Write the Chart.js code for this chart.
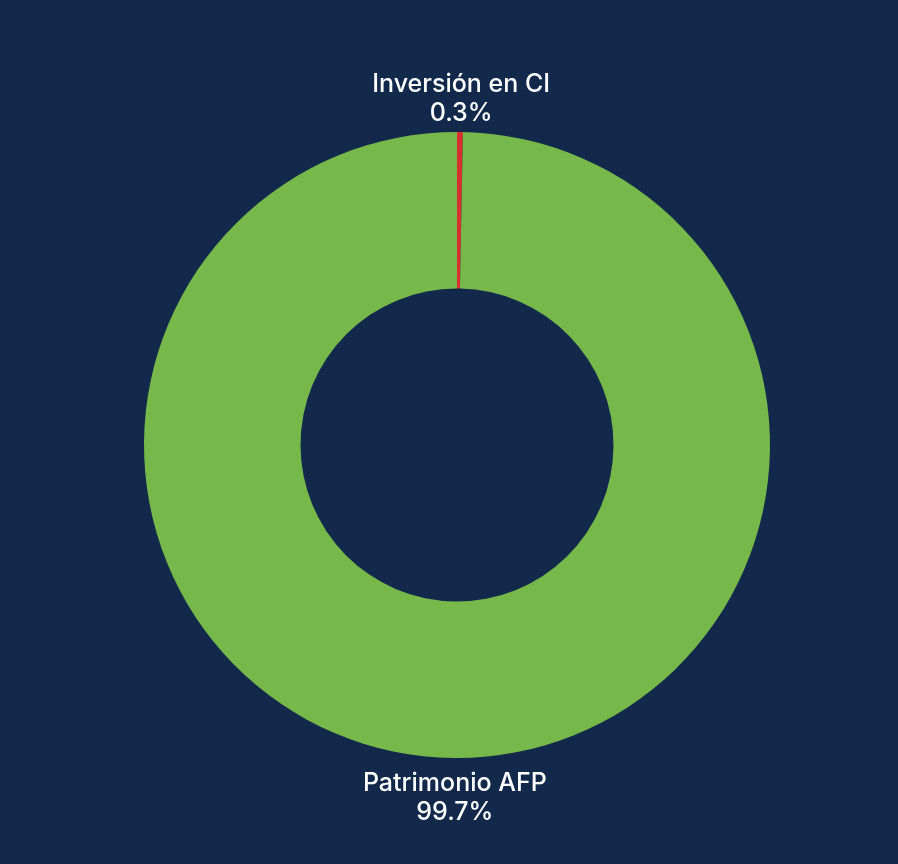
<!DOCTYPE html>
<html>
<head>
<meta charset="utf-8">
<script src="https://cdn.jsdelivr.net/npm/chart.js@4"></script>
<style>
  html, body { margin: 0; padding: 0; background: #13294c; }
  #wrap { width: 898px; height: 864px; }
</style>
</head>
<body>
<div id="wrap"><canvas id="c" width="898" height="864"></canvas></div>
<script>
const categories = ["Inversión en CI", "Patrimonio AFP"];
const values = [0.3, 99.7];
const valueLabels = ["0.3%", "99.7%"];
const colors = ["#d8302f", "#76b84a"];

const outsideLabels = {
  id: 'outsideLabels',
  afterDatasetsDraw(chart) {
    const ctx = chart.ctx;
    const meta = chart.getDatasetMeta(0);
    ctx.save();
    ctx.fillStyle = '#ffffff';
    ctx.font = '500 25px Inter, "Open Sans", sans-serif';
    ctx.textAlign = 'center';
    ctx.textBaseline = 'middle';
    meta.data.forEach((arc, i) => {
      const p = arc.getProps(['x', 'y', 'startAngle', 'endAngle', 'outerRadius'], true);
      const mid = (p.startAngle + p.endAngle) / 2;
      const up = Math.sin(mid) < 0;
      const r = p.outerRadius + 22;
      const ax = p.x + Math.cos(mid) * r + 1;
      const ay = p.y + Math.sin(mid) * r + 3;
      const lines = [categories[i], valueLabels[i]];
      const lh = 29;
      lines.forEach((t, k) => {
        const y = up ? ay - (lines.length - 1 - k) * lh : ay + k * lh;
        ctx.fillText(t, ax, y);
      });
    });
    ctx.restore();
  }
};

new Chart(document.getElementById('c'), {
  type: 'doughnut',
  data: {
    labels: categories,
    datasets: [{
      data: values,
      backgroundColor: colors,
      borderWidth: 0
    }]
  },
  options: {
    responsive: false,
    animation: false,
    cutout: '50%',
    layout: { padding: { top: 132, bottom: 106, left: 16, right: 0 } },
    plugins: {
      legend: { display: false },
      tooltip: { enabled: false }
    }
  },
  plugins: [outsideLabels]
});
</script>
</body>
</html>
